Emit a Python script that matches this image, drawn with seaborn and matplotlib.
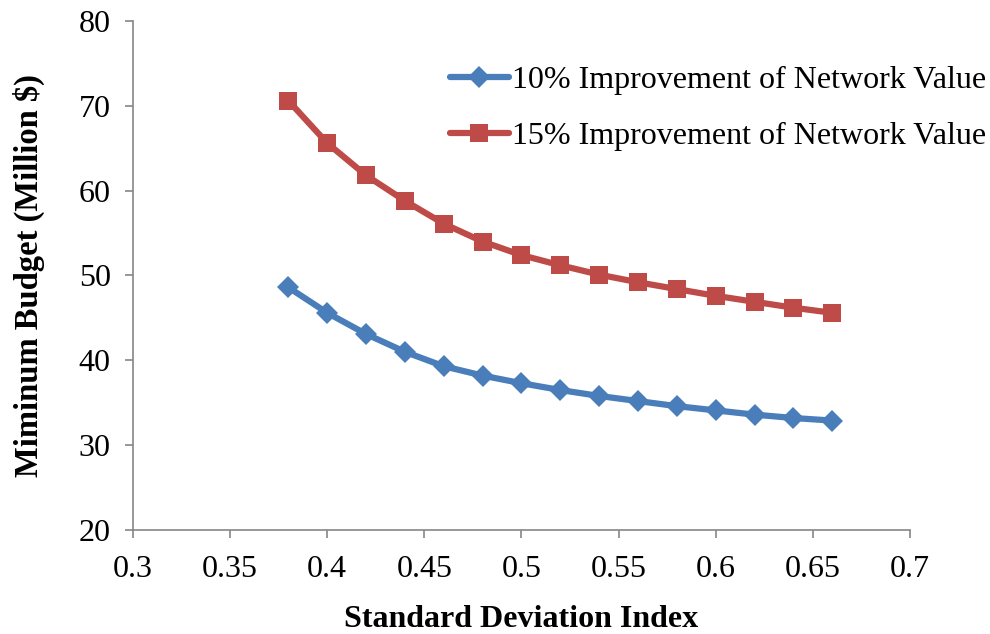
import matplotlib
matplotlib.use("Agg")
import matplotlib.pyplot as plt
import seaborn as sns
import pandas as pd

x_vals = [0.38, 0.40, 0.42, 0.44, 0.46, 0.48, 0.50, 0.52, 0.54, 0.56, 0.58, 0.60, 0.62, 0.64, 0.66]
budget_10 = [48.6, 45.6, 43.1, 41.0, 39.3, 38.2, 37.3, 36.5, 35.8, 35.2, 34.6, 34.1, 33.6, 33.2, 32.9]
budget_15 = [70.6, 65.6, 61.8, 58.8, 56.1, 54.0, 52.4, 51.2, 50.1, 49.2, 48.4, 47.6, 46.9, 46.2, 45.6]
series_names = ["10% Improvement of Network Value", "15% Improvement of Network Value"]
x_ticks = [0.3, 0.35, 0.4, 0.45, 0.5, 0.55, 0.6, 0.65, 0.7]
x_tick_labels = ["0.3", "0.35", "0.4", "0.45", "0.5", "0.55", "0.6", "0.65", "0.7"]
y_ticks = [20, 30, 40, 50, 60, 70, 80]

df = pd.DataFrame({
    "x": x_vals * 2,
    "y": budget_10 + budget_15,
    "series": [series_names[0]] * len(x_vals) + [series_names[1]] * len(x_vals),
})

sns.set_style("white")
plt.rcParams["font.family"] = ["Liberation Serif", "DejaVu Serif"]
plt.rcParams["text.color"] = "black"
plt.rcParams["axes.labelcolor"] = "black"

fig = plt.figure(figsize=(9.9, 6.34), dpi=100)
ax = fig.add_axes([0.1343, 0.164, 0.7848, 0.803])

palette = {series_names[0]: "#4A7EBB", series_names[1]: "#BE4B48"}
sns.lineplot(data=df, x="x", y="y", hue="series", style="series",
             markers={series_names[0]: "D", series_names[1]: "s"},
             dashes=False, palette=palette, linewidth=4.5, markersize=12,
             markeredgewidth=0, ax=ax)
for line in ax.get_lines():
    if line.get_marker() == "D":
        line.set_markersize(11)
    elif line.get_marker() == "s":
        line.set_markersize(13)

ax.set_xlim(0.3, 0.7)
ax.set_ylim(20, 80)
ax.set_xticks(x_ticks)
ax.set_xticklabels(x_tick_labels)
ax.set_yticks(y_ticks)
ax.tick_params(axis="both", labelsize=23, labelcolor="black", length=6, width=1.2,
               color="#868686", direction="out", bottom=True, left=True)
ax.tick_params(axis="x", pad=12)
ax.tick_params(axis="y", pad=10)
for s in ["top", "right"]:
    ax.spines[s].set_visible(False)
for s in ["left", "bottom"]:
    ax.spines[s].set_color("#868686")
    ax.spines[s].set_linewidth(1.2)

ax.set_xlabel("Standard Deviation Index", fontsize=23, fontweight="bold", labelpad=15, color="black")
ax.set_ylabel("Miminum Budget (Million $)", fontsize=23.5, fontweight="bold", labelpad=24, color="black")

handles, labels = ax.get_legend_handles_labels()
leg = ax.legend(handles=handles, labels=labels, loc="upper right",
                bbox_to_anchor=(1.009, 1 - 53 / 634), bbox_transform=fig.transFigure,
                frameon=False, fontsize=23, handlelength=1.85, handletextpad=0.1,
                labelspacing=0.82, borderaxespad=0)
for h in leg.legend_handles:
    h.set_linewidth(4.5)
for t in leg.get_texts():
    t.set_color("black")

fig.savefig("out.png", dpi=100)
